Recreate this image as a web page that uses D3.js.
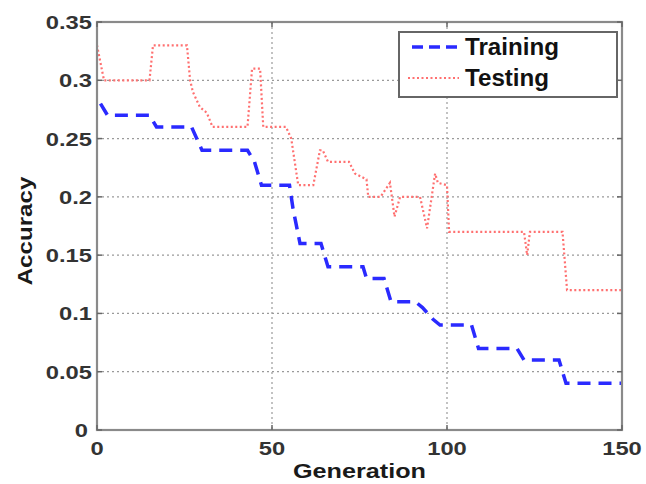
<!DOCTYPE html>
<html>
<head>
<meta charset="utf-8">
<script src="https://cdn.jsdelivr.net/npm/d3@7"></script>
<style>
  html, body { margin: 0; padding: 0; background: #fff; }
  svg { display: block; font-family: "Liberation Sans", Arial, sans-serif; }
</style>
</head>
<body>
<svg id="chart" width="646" height="484"></svg>
<script>
// data
const xTicks = [0, 50, 100, 150];
const yTicks = [0, 0.05, 0.1, 0.15, 0.2, 0.25, 0.3, 0.35];

const trainGen = [1, 3, 15, 17, 27, 30, 43, 45, 47, 55, 56, 58, 64, 66, 76, 77, 82, 84, 91, 93, 96, 98, 107, 109, 120, 122, 132, 134, 150];
const trainAcc = [0.28, 0.27, 0.27, 0.26, 0.26, 0.24, 0.24, 0.23, 0.21, 0.21, 0.19, 0.16, 0.16, 0.14, 0.14, 0.13, 0.13, 0.11, 0.11, 0.105, 0.095, 0.09, 0.09, 0.07, 0.07, 0.06, 0.06, 0.04, 0.04];

const testGen = [0, 2, 15, 16, 25.7, 26.6, 27.4, 29.4, 31.4, 33, 43, 44.3, 46.6, 47.5, 54, 55.5, 57.5, 61.8, 63.7, 64.5, 66, 72, 73.7, 77, 77.5, 81, 83.7, 85, 86.6, 92.3, 94.3, 96.6, 97.4, 100, 100.6, 122, 122.9, 123.7, 133, 134.3, 150];
const testAcc = [0.33, 0.30, 0.30, 0.33, 0.33, 0.30, 0.29, 0.277, 0.272, 0.26, 0.26, 0.31, 0.31, 0.26, 0.26, 0.25, 0.21, 0.21, 0.24, 0.24, 0.23, 0.23, 0.22, 0.215, 0.20, 0.20, 0.212, 0.183, 0.20, 0.20, 0.173, 0.22, 0.212, 0.21, 0.17, 0.17, 0.15, 0.17, 0.17, 0.12, 0.12];

const svg = d3.select("#chart");
const L = 97, R = 622, T = 22, B = 430;

const x = d3.scaleLinear().domain([0, 150]).range([L, R]);
const y = d3.scaleLinear().domain([0, 0.35]).range([B, T]);

// grid
const grid = svg.append("g").attr("stroke", "#9a9a9a").attr("stroke-width", 1.2).attr("stroke-dasharray", "2,3");
grid.selectAll(".gx").data(xTicks.slice(1, -1)).enter().append("line")
  .attr("x1", d => x(d)).attr("x2", d => x(d)).attr("y1", T).attr("y2", B);
grid.selectAll(".gy").data(yTicks.slice(1, -1)).enter().append("line")
  .attr("x1", L).attr("x2", R).attr("y1", d => y(d)).attr("y2", d => y(d));

// lines
const line = d3.line().x(d => x(d[0])).y(d => y(d[1]));
const trainPts = trainGen.map((g, i) => [g, trainAcc[i]]);
const testPts = testGen.map((g, i) => [g, testAcc[i]]);

svg.append("path").datum(testPts).attr("d", line)
  .attr("fill", "none").attr("stroke", "#ff7070").attr("stroke-width", 2.2)
  .attr("stroke-dasharray", "2,2.5");
svg.append("path").datum(trainPts).attr("d", line)
  .attr("fill", "none").attr("stroke", "#2a2aff").attr("stroke-width", 3.5)
  .attr("stroke-dasharray", "13,8");

// frame + inward ticks
svg.append("rect").attr("x", L).attr("y", T).attr("width", R - L).attr("height", B - T)
  .attr("fill", "none").attr("stroke", "#8a8a8a").attr("stroke-width", 2.2);
const tk = svg.append("g").attr("stroke", "#666").attr("stroke-width", 1.5);
xTicks.forEach(d => {
  tk.append("line").attr("x1", x(d)).attr("x2", x(d)).attr("y1", B).attr("y2", B - 5);
  tk.append("line").attr("x1", x(d)).attr("x2", x(d)).attr("y1", T).attr("y2", T + 5);
});
yTicks.forEach(d => {
  tk.append("line").attr("x1", L).attr("x2", L + 5).attr("y1", y(d)).attr("y2", y(d));
  tk.append("line").attr("x1", R).attr("x2", R - 5).attr("y1", y(d)).attr("y2", y(d));
});

// stretched text helper (the source picture is wider than tall)
function label(txt, px, py, opts) {
  const o = Object.assign({ size: 19, sx: 1.25, anchor: "middle", weight: "bold", fill: "#333", rot: 0 }, opts);
  return svg.append("text")
    .attr("transform", `translate(${px},${py}) rotate(${o.rot}) scale(${o.sx},1)`)
    .attr("text-anchor", o.anchor)
    .attr("font-size", o.size)
    .attr("font-weight", o.weight)
    .attr("fill", o.fill)
    .text(txt);
}

const fmt = d => d === 0 ? "0" : String(+d.toFixed(2));
xTicks.forEach(d => label(fmt(d), x(d), 455));
yTicks.forEach(d => label(fmt(d), d === 0 ? 88 : 92, y(d) + 7, { anchor: "end" }));

label("Generation", (L + R) / 2, 478, { size: 21, sx: 1.2, fill: "#1a1a1a" });
label("Accuracy", 32, 231, { size: 21, sx: 1.15, rot: -90, fill: "#1a1a1a" });

// legend
svg.append("rect").attr("x", 399).attr("y", 32).attr("width", 218).attr("height", 65)
  .attr("fill", "#fff").attr("stroke", "#666").attr("stroke-width", 2);
svg.append("line").attr("x1", 412).attr("x2", 459).attr("y1", 47).attr("y2", 47)
  .attr("stroke", "#2a2aff").attr("stroke-width", 3.5).attr("stroke-dasharray", "11,6");
svg.append("line").attr("x1", 408).attr("x2", 459).attr("y1", 78).attr("y2", 78)
  .attr("stroke", "#ff7070").attr("stroke-width", 2.2).attr("stroke-dasharray", "2,2.5");
label("Training", 465, 55, { size: 23, sx: 1.05, anchor: "start", fill: "#111" });
label("Testing", 465, 86, { size: 23, sx: 1.05, anchor: "start", fill: "#111" });
</script>
</body>
</html>
